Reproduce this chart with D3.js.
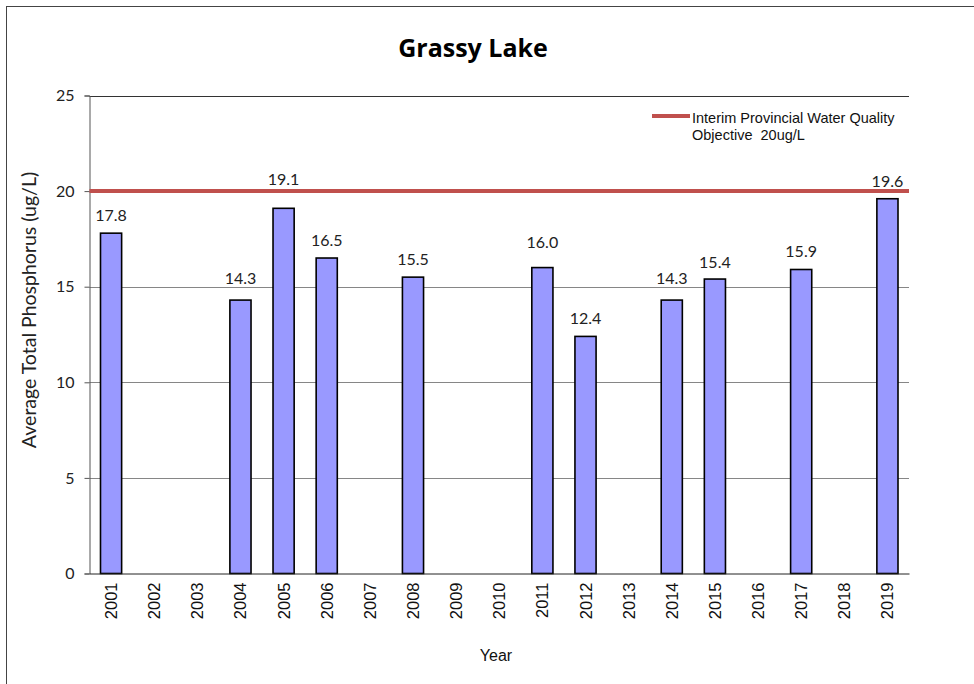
<!DOCTYPE html>
<html>
<head>
<meta charset="utf-8">
<title>Grassy Lake</title>
<script src="https://cdn.jsdelivr.net/npm/d3@7"></script>
<style>
  html, body { margin: 0; padding: 0; background: #fff; }
  svg { display: block; }
</style>
</head>
<body>
<svg id="chart" width="974" height="684"></svg>
<script>
/* ---- DATA ----------------------------------------------------------------- */
var years = ['2001', '2002', '2003', '2004', '2005', '2006', '2007', '2008', '2009', '2010',
             '2011', '2012', '2013', '2014', '2015', '2016', '2017', '2018', '2019'];
// average total phosphorus (ug/L); null = no sample that year
var phosphorus = [17.8, null, null, 14.3, 19.1, 16.5, null, 15.5, null, null,
                  16.0, 12.4, null, 14.3, 15.4, null, 15.9, null, 19.6];
var objectiveValue = 20;
var objectiveLabel = ['Interim Provincial Water Quality', 'Objective  20ug/L'];
var yTicks = [0, 5, 10, 15, 20, 25];
var chartTitle = 'Grassy Lake';
var xTitle = 'Year';
var yTitle = 'Average Total Phosphorus (ug/L)';

(function () {
  'use strict';

  /* ---- layout / style -------------------------------------------------- */
  var CONFIG = {
    plot: { left: 89.5, right: 909, top: 95.5, bottom: 573.5 },
    barFill: '#9999ff',
    objColor: '#c0504d',
    grid: '#868686',
    // Excel labels were nudged by hand; px gap between label baseline and bar top
    labelGap: [12, 0, 0, 16, 23, 12, 0, 12, 0, 0, 20, 12, 0, 16, 11, 0, 12, 0, 12],
    calibri: 'Lato, "Open Sans", sans-serif',
    arial: '"Liberation Sans", Arial, sans-serif'
  };

  var svg = d3.select('#chart');
  var P = CONFIG.plot;

  var x = d3.scaleBand().domain(years).range([P.left, P.right]).paddingInner(0.51).paddingOuter(0.255);
  var y = d3.scaleLinear().domain([0, 25]).range([P.bottom, P.top]);

  // outer chart frame (only top + left edges fall inside the screenshot)
  svg.append('rect')
    .attr('x', 6.5).attr('y', 6.5).attr('width', 1000).attr('height', 700)
    .attr('fill', 'none').attr('stroke', '#444').attr('stroke-width', 1);

  /* ---- gridlines ------------------------------------------------------- */
  svg.append('g').selectAll('line')
    .data(yTicks.filter(function (t) { return t > 0; }))
    .enter().append('line')
    .attr('x1', P.left).attr('x2', P.right)
    .attr('y1', function (d) { return Math.round(y(d)) + 0.5; })
    .attr('y2', function (d) { return Math.round(y(d)) + 0.5; })
    .attr('stroke', function (d) { return d === 25 ? '#333' : CONFIG.grid; })
    .attr('stroke-width', 1);

  /* ---- y axis ---------------------------------------------------------- */
  var yAxis = d3.axisLeft(y).tickValues(yTicks).tickSize(5).tickPadding(10)
    .tickFormat(d3.format('d'));
  var gy = svg.append('g').attr('transform', 'translate(' + P.left + ',0)').call(yAxis);
  gy.select('.domain').attr('stroke', '#555');
  gy.selectAll('.tick line').attr('stroke', '#555');
  gy.selectAll('.tick text')
    .attr('font-family', CONFIG.calibri).attr('font-size', 16).attr('fill', '#222');

  /* ---- bars ------------------------------------------------------------ */
  var pts = years.map(function (yr, i) {
    return { year: yr, v: phosphorus[i], gap: CONFIG.labelGap[i] };
  }).filter(function (d) { return d.v !== null; });

  svg.append('g').selectAll('rect')
    .data(pts).enter().append('rect')
    .attr('x', function (d) { return x(d.year); })
    .attr('y', function (d) { return y(d.v); })
    .attr('width', x.bandwidth())
    .attr('height', function (d) { return y(0) - y(d.v); })
    .attr('fill', CONFIG.barFill)
    .attr('stroke', '#000').attr('stroke-width', 1.6);

  /* ---- x axis ---------------------------------------------------------- */
  var xAxis = d3.axisBottom(x).tickSize(0).tickPadding(0);
  var gx = svg.append('g').attr('transform', 'translate(0,' + P.bottom + ')').call(xAxis);
  gx.select('.domain').attr('stroke', '#222');
  gx.selectAll('.tick text')
    .attr('font-family', CONFIG.arial).attr('font-size', 16.5).attr('fill', '#111')
    .attr('text-anchor', 'end').attr('dy', null)
    .attr('transform', 'translate(6,9) rotate(-90)');

  /* ---- objective line + legend ---------------------------------------- */
  svg.append('line')
    .attr('x1', P.left).attr('x2', P.right)
    .attr('y1', y(objectiveValue)).attr('y2', y(objectiveValue))
    .attr('stroke', CONFIG.objColor).attr('stroke-width', 4);

  svg.append('line')
    .attr('x1', 652).attr('x2', 690).attr('y1', 116).attr('y2', 116)
    .attr('stroke', CONFIG.objColor).attr('stroke-width', 4);
  svg.append('g').selectAll('text')
    .data(objectiveLabel).enter().append('text')
    .attr('x', 692).attr('y', function (d, i) { return 122.5 + i * 17.5; })
    .attr('font-family', CONFIG.arial).attr('font-size', 14.5).attr('fill', '#111')
    .attr('xml:space', 'preserve').style('white-space', 'pre')
    .text(function (d) { return d; });

  /* ---- value labels ---------------------------------------------------- */
  svg.append('g').selectAll('text')
    .data(pts).enter().append('text')
    .attr('x', function (d) { return x(d.year) + x.bandwidth() / 2; })
    .attr('y', function (d) { return y(d.v) - d.gap; })
    .attr('text-anchor', 'middle')
    .attr('font-family', CONFIG.calibri).attr('font-size', 16).attr('fill', '#222')
    .text(function (d) { return d.v.toFixed(1); });

  /* ---- titles ---------------------------------------------------------- */
  svg.append('text')
    .attr('x', 473).attr('y', 57).attr('text-anchor', 'middle')
    .attr('font-family', '"Open Sans", sans-serif').attr('font-weight', 700)
    .attr('font-size', 25).attr('fill', '#000')
    .text(chartTitle);

  svg.append('text')
    .attr('x', 496).attr('y', 661).attr('text-anchor', 'middle')
    .attr('font-family', CONFIG.arial).attr('font-size', 16).attr('fill', '#111')
    .text(xTitle);

  svg.append('text')
    .attr('transform', 'translate(36,310) rotate(-90)').attr('text-anchor', 'middle')
    .attr('font-family', CONFIG.calibri).attr('font-size', 19.5).attr('fill', '#222')
    .text(yTitle);
})();
</script>
</body>
</html>
